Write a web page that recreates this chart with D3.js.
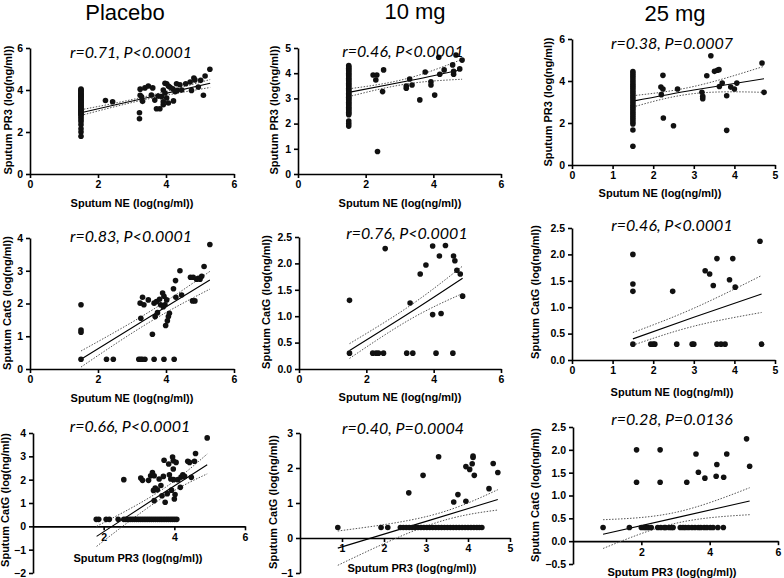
<!DOCTYPE html>
<html lang="en">
  <head>
    <meta charset="utf-8" />
    <title>Sputum protease correlations</title>
    <script src="https://d3js.org/d3.v7.min.js"></script>
    <style>
      body { margin: 0; background: #fff; }
    </style>
  </head>
  <body>
    <svg id="chart" width="784" height="578"></svg>
    <script>
    // ---- data ----
    var groups = ["Placebo", "10 mg", "25 mg"];
    var NE_FLOOR = 1.5;     // NE values below detection sit at 1.5
    var CATG_FLOOR = 0.3;   // CatG values below detection sit at 0.3

    // row 1: NE (x) vs PR3 (y)
    var p1Floor = [4.05, 4.0, 3.95, 3.9, 3.85, 3.8, 3.75, 3.7, 3.65, 3.6, 3.55, 3.5, 3.45, 3.4, 3.35, 3.3,
      3.25, 3.2, 3.15, 3.1, 3.05, 3.0, 2.95, 2.9, 2.85, 2.8, 2.7, 2.6, 2.5, 2.35, 2.15, 2.0, 1.8];
    var p1Pts = [[2.22,3.5],[2.43,3.44],[3.24,4.04],[3.24,3.75],[3.31,3.46],[3.22,2.92],[3.22,2.63],[3.28,3.68],
      [3.38,4.1],[3.48,4.19],[3.61,4.1],[3.57,3.76],[3.67,3.52],[3.72,3.11],[3.82,3.11],[3.77,3.71],[3.87,3.68],
      [3.92,3.44],[3.92,4.0],[3.97,4.32],[4.02,4.3],[4.07,4.19],[3.97,3.86],[4.02,3.62],[4.07,3.38],[3.92,3.3],
      [4.12,4.13],[4.22,3.48],[4.2,4.06],[4.27,3.92],[4.31,4.3],[4.41,4.25],[4.33,3.98],[4.46,4.0],[4.58,4.3],
      [4.71,4.38],[4.82,4.57],[4.85,4.48],[4.75,3.98],[4.95,4.14],[5.02,4.46],[5.1,3.75],[5.15,4.67],[5.29,4.99]];
    var p2Floor = [4.3, 4.25, 4.2, 4.15, 4.1, 4.05, 4.0, 3.95, 3.9, 3.85, 3.8, 3.75, 3.7, 3.65, 3.6, 3.55, 3.5,
      3.45, 3.4, 3.35, 3.3, 3.25, 3.2, 3.15, 3.1, 3.05, 3.0, 2.95, 2.9, 2.85, 2.8, 2.75, 2.7, 2.65, 2.6, 2.55,
      2.5, 2.45, 2.4, 2.35, 2.1, 2.0, 1.9];
    var p2Pts = [[2.22,3.93],[2.33,3.93],[2.3,3.73],[2.53,4.13],[2.5,3.27],[2.35,0.89],[3.2,3.49],[3.2,3.4],
      [3.3,3.77],[3.37,3.53],[3.6,2.94],[3.76,4.05],[3.93,3.66],[3.93,3.53],[4.04,3.13],[4.16,4.63],[4.19,3.96],
      [4.32,4.13],[4.57,4.33],[4.6,3.96],[4.6,4.08],[4.67,4.72],[4.78,4.17],[4.85,4.52]];
    var p3Floor = [4.45, 4.35, 4.25, 4.15, 4.05, 3.95, 3.85, 3.75, 3.65, 3.55, 3.45, 3.35, 3.25, 3.15, 3.05,
      2.95, 2.85, 2.75, 2.65, 2.55, 2.45, 2.35, 2.25, 2.15, 2.05, 1.95, 1.67, 0.89];
    var p3Pts = [[2.24,4.27],[2.19,3.71],[2.24,3.62],[2.2,3.35],[2.25,2.24],[2.5,1.87],[2.6,3.62],[3.2,3.46],
      [3.22,3.27],[3.22,3.16],[3.32,4.25],[3.42,5.2],[3.51,4.46],[3.58,4.51],[3.62,4.54],[3.63,3.74],[3.7,3.9],
      [3.81,3.3],[3.81,1.65],[3.91,3.71],[4.0,3.62],[4.06,3.9],[4.68,4.86],[4.73,3.46]];

    // row 2: NE (x) vs CatG (y)
    var p4Pts = [[1.5,1.96],[1.5,1.19],[1.5,1.12],[1.5,0.3],[2.25,0.3],[2.45,0.3],[3.2,0.3],[3.25,0.3],[3.3,0.3],
      [3.38,0.3],[3.65,0.3],[3.94,0.3],[4.24,0.3],[3.24,2.01],[3.31,2.19],[3.35,1.96],[3.26,1.55],[3.6,1.06],
      [3.48,2.11],[3.65,2.01],[3.68,1.6],[3.75,1.72],[3.72,2.06],[3.81,2.13],[3.84,1.96],[3.9,2.32],[3.94,2.22],
      [3.97,1.96],[3.92,1.9],[4.02,2.11],[3.99,1.33],[4.04,1.47],[4.07,1.6],[4.1,1.7],[4.22,2.45],[4.28,2.7],
      [4.29,2.19],[4.41,3.0],[4.46,2.26],[4.72,2.8],[4.8,2.8],[4.78,2.08],[4.85,2.08],[4.9,2.74],[4.95,2.77],
      [5.0,2.74],[5.05,2.83],[5.12,3.13],[5.29,3.8]];
    var p5Pts = [[1.5,0.3],[1.5,1.3],[2.19,0.3],[2.29,0.3],[2.36,0.3],[2.51,0.3],[2.56,2.28],[3.2,0.3],[3.38,0.3],
      [3.3,1.25],[3.6,1.8],[3.77,1.97],[3.97,2.33],[3.97,1.03],[4.07,0.3],[4.17,2.14],[4.22,1.05],[4.35,2.34],
      [4.59,2.14],[4.63,2.05],[4.57,0.3],[4.69,1.87],[4.79,1.8],[4.86,1.38]];
    var p6Pts = [[1.5,2.0],[1.5,1.44],[1.5,1.3],[1.5,0.3],[1.94,0.3],[2.0,0.3],[2.04,0.3],[2.58,0.3],[2.96,0.3],
      [3.0,0.3],[2.48,1.3],[3.28,1.69],[3.39,1.63],[3.48,1.41],[3.57,1.92],[3.57,0.3],[3.67,0.3],[3.77,0.3],
      [3.88,1.52],[3.96,1.92],[4.02,1.38],[4.63,2.25],[4.67,0.3]];

    // row 3: PR3 (x) vs CatG (y)
    var p7Floor = [1.79, 1.86, 2.07, 2.16, 2.41, 2.57, 2.63, 2.69, 2.75, 2.81, 2.87, 2.93, 2.99, 3.05, 3.11,
      3.17, 3.23, 3.29, 3.35, 3.41, 3.47, 3.53, 3.59, 3.65, 3.71, 3.77, 3.83, 3.89, 3.95, 4.01, 4.07];
    var p7Pts = [[2.57,2.0],[3.05,2.07],[3.1,1.97],[3.27,1.97],[3.33,2.17],[3.38,2.31],[3.43,2.17],[3.41,1.54],
      [3.46,1.64],[3.43,1.1],[3.57,2.03],[3.52,1.57],[3.65,1.31],[3.69,2.14],[3.74,1.03],[3.71,2.83],[3.84,2.67],
      [3.86,2.21],[3.9,2.03],[3.95,2.97],[3.97,2.81],[3.97,2.46],[3.98,2.0],[4.0,1.17],[4.02,1.36],[4.05,2.74],
      [4.1,2.0],[4.17,1.67],[4.19,2.11],[4.24,2.21],[4.29,2.14],[4.38,2.79],[4.43,2.74],[4.48,2.1],[4.57,2.79],
      [4.6,3.12],[4.93,3.79],[3.62,1.75],[3.8,1.4],[3.92,1.55]];
    var p8Floor = [0.9, 1.93, 2.09, 2.39, 2.46, 2.53, 2.6, 2.67, 2.74, 2.81, 2.88, 2.95, 3.02, 3.09, 3.16, 3.23,
      3.3, 3.37, 3.44, 3.51, 3.58, 3.65, 3.72, 3.79, 3.86, 3.93, 4.0, 4.07, 4.14, 4.21, 4.27, 4.33];
    var p8Pts = [[2.59,1.29],[2.93,1.79],[3.3,2.32],[3.66,1.03],[3.76,1.24],[3.95,1.05],[3.95,2.04],[4.04,1.96],
      [4.1,2.12],[4.12,2.3],[4.12,2.34],[4.15,1.79],[4.5,1.41],[4.6,2.13],[4.71,1.87]];
    var p9Floor = [0.88, 1.65, 2.0, 2.08, 2.14, 2.2, 2.29, 2.48, 2.57, 2.67, 2.71, 2.81, 2.88, 2.93, 3.14, 3.22,
      3.29, 3.38, 3.48, 3.57, 3.67, 3.74, 3.84, 3.92, 4.02, 4.1, 4.24, 4.4];
    var p9Pts = [[1.86,2.0],[1.86,1.29],[2.55,2.0],[2.55,1.29],[3.33,1.29],[3.6,1.91],[3.67,1.51],[3.86,1.38],
      [4.19,1.42],[4.21,1.68],[4.41,1.4],[4.5,1.91],[5.08,2.24],[5.17,1.64]];

    // regression line and 95% band, read at start / middle / end
    var fitX =  [[1.5,3.4,5.3],[1.5,3.2,4.85],[1.5,3.0,4.73],[1.5,3.5,5.29],[1.5,3.3,4.86],[1.5,3.0,4.67],[1.8,3.6,4.93],[0.9,3.1,4.71],[0.88,3.0,5.17]];
    var fitY =  [[2.92,3.62,4.32],[3.24,3.68,4.15],[3.04,3.57,4.11],[0.3,1.58,2.72],[0.35,1.07,1.72],[0.4,0.81,1.25],[-0.43,1.34,2.64],[-0.29,0.51,1.1],[0.15,0.51,0.88]];
    var fitHi = [[3.06,3.69,4.5],[3.38,3.78,4.55],[3.3,3.74,4.7],[0.55,1.74,2.98],[0.48,1.2,1.95],[0.52,0.98,1.6],[0.0,1.52,3.1],[0.2,0.64,1.38],[0.47,0.63,1.17]];
    var fitLo = [[2.79,3.55,4.12],[3.07,3.57,3.76],[2.76,3.4,3.46],[0.06,1.42,2.44],[0.2,0.94,1.43],[0.28,0.64,0.9],[-0.86,1.16,2.25],[-0.78,0.38,0.8],[-0.16,0.39,0.58]];
    var stats = ["r=0.71, P<0.0001", "r=0.46, P<0.0001", "r=0.38, P=0.0007",
      "r=0.83, P<0.0001", "r=0.76, P<0.0001", "r=0.46, P<0.0001",
      "r=0.66, P<0.0001", "r=0.40, P=0.0004", "r=0.28, P=0.0136"];
    var xLabels = ["Sputum NE (log(ng/ml))", "Sputum NE (log(ng/ml))", "Sputum PR3 (log(ng/ml))"];
    var yLabels = ["Sputum PR3 (log(ng/ml))", "Sputum CatG (log(ng/ml))", "Sputum CatG (log(ng/ml))"];

    // points per panel, floors turned into pairs
    function col(ys) { return ys.map(function(v){ return [NE_FLOOR, v]; }); }
    function row(xs) { return xs.map(function(v){ return [v, CATG_FLOOR]; }); }
    var points = [
      col(p1Floor).concat(p1Pts), col(p2Floor).concat(p2Pts), col(p3Floor).concat(p3Pts),
      p4Pts, p5Pts, p6Pts,
      row(p7Floor).concat(p7Pts), row(p8Floor).concat(p8Pts), row(p9Floor).concat(p9Pts)
    ];

    // ---- layout (pixel boxes of each small plot) ----
    var f1 = d3.format("d"), f2 = d3.format(".1f");
    var panels = [
      {left:30, right:234, top:48, bottom:174, xd:[0,6], yd:[0,6], xt:[0,2,4,6], yt:[0,2,4,6], yf:f1, xl:[132,203], yl:[8,110], st:[131,58]},
      {left:298, right:501, top:48, bottom:174, xd:[0,6], yd:[0,5], xt:[0,2,4,6], yt:[0,1,2,3,4,5], yf:f1, xl:[400,203], yl:[274,110], st:[403,57]},
      {left:572, right:775, top:39, bottom:165, xd:[0,5], yd:[0,6], xt:[0,1,2,3,4,5], yt:[0,2,4,6], yf:f1, xl:[660,193], yl:[548,102], st:[672,49]},
      {left:30, right:234, top:238, bottom:369, xd:[0,6], yd:[0,4], xt:[0,2,4,6], yt:[0,1,2,3,4], yf:f1, xl:[132,398], yl:[7,303], st:[131,242]},
      {left:299, right:501, top:237, bottom:369, xd:[0,6], yd:[0,2.5], xt:[0,2,4,6], yt:[0,0.5,1,1.5,2,2.5], yf:f2, xl:[400,397], yl:[266,302], st:[407,239]},
      {left:572, right:775, top:228, bottom:360, xd:[0,5], yd:[0,2.5], xt:[0,1,2,3,4,5], yt:[0,0.5,1,1.5,2,2.5], yf:f2, xl:[672,392], yl:[535,292], st:[672,231]},
      {left:33, right:245, top:433, bottom:573, xd:[0,6], yd:[-2,4], xt:[2,4,6], yt:[-2,-1,0,1,2,3,4], yf:f1, xl:[138,558], yl:[5,500], st:[130,432]},
      {left:300, right:510, top:433, bottom:573, xd:[0,5], yd:[-1,3], xt:[1,2,3,4,5], yt:[-1,0,1,2,3], yf:f1, xl:[412,568], yl:[273,502], st:[403,434]},
      {left:573, right:778, top:427, bottom:564, xd:[0,6], yd:[-0.5,2.5], xt:[2,4,6], yt:[-0.5,0,0.5,1,1.5,2,2.5], yf:f2, xl:[672,572], yl:[535,495], st:[672,425]}
    ];

    var svg = d3.select("#chart");
    var FONT = "'Liberation Sans', Arial, sans-serif";

    // column titles
    var titlePos = [[125,20],[415,19],[675,21]];
    svg.selectAll("text.title")
      .data(groups)
      .enter()
      .append("text")
        .attr("class", "title")
        .attr("x", function(d, i){ return titlePos[i][0]; })
        .attr("y", function(d, i){ return titlePos[i][1]; })
        .attr("text-anchor", "middle")
        .style("font-family", FONT)
        .style("font-size", "22px")
        .text(function(d){ return d; });

    panels.forEach(function(p, i) {
      var x = d3.scaleLinear().domain(p.xd).range([p.left, p.right]);
      var y = d3.scaleLinear().domain(p.yd).range([p.bottom, p.top]);
      var g = svg.append("g");

      // axes
      var xa = g.append("g")
        .attr("transform", "translate(0," + y(Math.max(0, p.yd[0])) + ")")
        .call(d3.axisBottom(x).tickValues(p.xt).tickSize(4).tickSizeOuter(0).tickFormat(f1));
      var ya = g.append("g")
        .attr("transform", "translate(" + x(0) + ",0)")
        .call(d3.axisLeft(y).tickValues(p.yt).tickSize(4).tickSizeOuter(0).tickFormat(p.yf));
      [xa, ya].forEach(function(a) {
        a.select(".domain").attr("stroke", "#000").attr("stroke-width", 1.6);
        a.selectAll(".tick line").attr("stroke", "#000").attr("stroke-width", 1.6);
        a.selectAll("text")
          .style("font-family", FONT)
          .style("font-size", "10.5px")
          .style("font-weight", "bold")
          .attr("fill", "#000");
      });

      // confidence band and fit
      var line = d3.line()
        .x(function(d){ return x(d[0]); })
        .y(function(d){ return y(d[1]); })
        .curve(d3.curveNatural);
      [fitHi[i], fitLo[i]].forEach(function(b) {
        g.append("path")
          .attr("d", line(d3.zip(fitX[i], b)))
          .attr("fill", "none")
          .attr("stroke", "#555")
          .attr("stroke-width", 1)
          .attr("stroke-dasharray", "1.5,1.5");
      });
      g.append("path")
        .attr("d", line(d3.zip(fitX[i], fitY[i])))
        .attr("fill", "none")
        .attr("stroke", "#000")
        .attr("stroke-width", 1.1);

      // points
      g.append("g")
        .selectAll("circle")
        .data(points[i])
        .enter()
        .append("circle")
          .attr("cx", function(d){ return x(d[0]); })
          .attr("cy", function(d){ return y(d[1]); })
          .attr("r", 2.8)
          .attr("fill", "#111");

      // labels
      var r = Math.floor(i / 3);
      g.append("text")
        .attr("x", p.xl[0]).attr("y", p.xl[1]).attr("dy", "0.35em")
        .attr("text-anchor", "middle")
        .style("font-family", FONT).style("font-size", "11px").style("font-weight", "bold")
        .text(xLabels[r]);
      g.append("text")
        .attr("transform", "translate(" + p.yl[0] + "," + p.yl[1] + ") rotate(-90)")
        .attr("dy", "0.35em")
        .attr("text-anchor", "middle")
        .style("font-family", FONT).style("font-size", "11px").style("font-weight", "bold")
        .text(yLabels[r]);
      g.append("text")
        .attr("x", p.st[0]).attr("y", p.st[1])
        .attr("text-anchor", "middle")
        .style("font-family", "Lato, 'Open Sans', sans-serif")
        .style("font-style", "italic")
        .style("font-size", "16px")
        .attr("fill", "#000")
        .text(stats[i]);
    });
    </script>
  </body>
</html>
